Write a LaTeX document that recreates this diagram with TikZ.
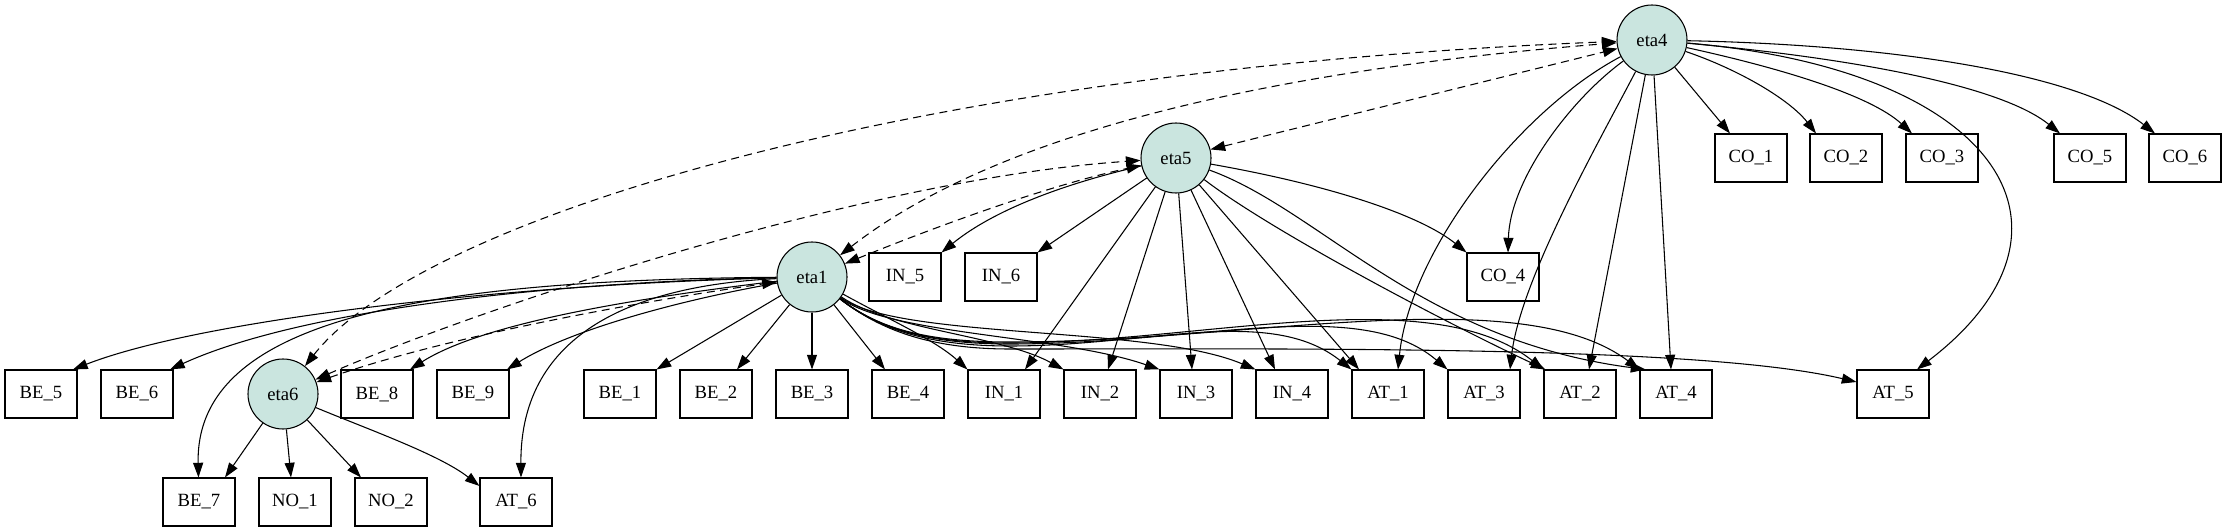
\documentclass[tikz,border=0pt]{standalone}
\usepackage{fontspec}
\setmainfont{Liberation Serif}
\usetikzlibrary{arrows.meta,calc}
\definecolor{latentfill}{HTML}{CAE5DF}
\tikzset{
  latent/.style={circle, draw, fill=latentfill, minimum size=52.5pt, inner sep=0pt, font=\fontsize{14}{16}\selectfont},
  obs/.style={rectangle, draw, minimum width=54pt, minimum height=36pt, inner sep=0pt, font=\fontsize{14}{16}\selectfont},
  load/.style={-{Triangle[length=11pt,width=7.5pt]}},
  cov/.style={{Triangle[length=11pt,width=7.5pt]}-{Triangle[length=11pt,width=7.5pt]}, dash pattern=on 6pt off 4pt},
}

\begin{document}
\begin{tikzpicture}[x=0.75pt, y=-0.75pt, line width=0.8pt]
            \useasboundingbox (0,0) rectangle (2227,531);
            % latent variables
            \node[latent] (eta4) at (1652,40) {eta4};
            \node[latent] (eta5) at (1176,158) {eta5};
            \node[latent] (eta1) at (812,277) {eta1};
            \node[latent] (eta6) at (283,394) {eta6};
            % first row of indicators
            \node[obs] (be5) at (41,394) {BE\_5};
            \node[obs] (be6) at ($(be5)+(96,0)$) {BE\_6};
            \node[obs] (be8) at (377,394) {BE\_8};
            \node[obs] (be9) at ($(be8)+(96,0)$) {BE\_9};
            \node[obs] (be1) at (620,394) {BE\_1};
            \node[obs] (be2) at ($(be1)+(96,0)$) {BE\_2};
            \node[obs] (be3) at ($(be2)+(96,0)$) {BE\_3};
            \node[obs] (be4) at ($(be3)+(96,0)$) {BE\_4};
            \node[obs] (in1) at ($(be4)+(96,0)$) {IN\_1};
            \node[obs] (in2) at ($(in1)+(96,0)$) {IN\_2};
            \node[obs] (in3) at ($(in2)+(96,0)$) {IN\_3};
            \node[obs] (in4) at ($(in3)+(96,0)$) {IN\_4};
            \node[obs] (at1) at ($(in4)+(96,0)$) {AT\_1};
            \node[obs] (at3) at ($(at1)+(96,0)$) {AT\_3};
            \node[obs] (at2) at ($(at3)+(96,0)$) {AT\_2};
            \node[obs] (at4) at ($(at2)+(96,0)$) {AT\_4};
            \node[obs] (at5) at (1893,394) {AT\_5};
            % second row
            \node[obs] (be7) at (199,502) {BE\_7};
            \node[obs] (no1) at ($(be7)+(96,0)$) {NO\_1};
            \node[obs] (no2) at ($(no1)+(96,0)$) {NO\_2};
            \node[obs] (at6) at (516,502) {AT\_6};
            % upper rows
            \node[obs] (in5) at (905,277) {IN\_5};
            \node[obs] (in6) at ($(in5)+(96,0)$) {IN\_6};
            \node[obs] (co4) at (1503,277) {CO\_4};
            \node[obs] (co1) at (1751,158) {CO\_1};
            \node[obs] (co2) at ($(co1)+(95,0)$) {CO\_2};
            \node[obs] (co3) at ($(co2)+(96,0)$) {CO\_3};
            \node[obs] (co5) at (2090,158) {CO\_5};
            \node[obs] (co6) at ($(co5)+(95,0)$) {CO\_6};
            % eta4
            \draw[load] (eta4) -- ($(co1.north)+(-21,0)$);
            \draw[load] (eta4) .. controls (1740,70) and (1790,100) .. ($(co2.north)+(-30,0)$);
            \draw[load] (eta4) .. controls (1780,68) and (1870,95) .. ($(co3.north)+(-30,0)$);
            \draw[load] (eta4) .. controls (1850,58) and (2000,85) .. ($(co5.north)+(-30,0)$);
            \draw[load] (eta4) .. controls (1900,45) and (2080,75) .. ($(co6.north)+(-30,0)$);
            \draw[load] (eta4) .. controls (2000,70) and (2100,230) .. ($(at5.north)+(24,0)$);
            \draw[load] (eta4) .. controls (1570,100) and (1510,180) .. ($(co4.north)+(5,0)$);
            \draw[load] (eta4) .. controls (1520,110) and (1410,250) .. ($(at1.north)+(10,0)$);
            \draw[load] (eta4) .. controls (1600,140) and (1520,280) .. ($(at3.north)+(26,0)$);
            \draw[load] (eta4) -- ($(at2.north)+(9,0)$);
            \draw[load] (eta4) -- ($(at4.north)+(-5,0)$);
            % eta5
            \draw[load] (eta5) .. controls (1080,180) and (1000,205) .. (in5.north east);
            \draw[load] (eta5) -- (in6.north east);
            \draw[load] (eta5) -- ($(in1.north)+(21,0)$);
            \draw[load] (eta5) -- ($(in2.north)+(8,0)$);
            \draw[load] (eta5) -- ($(in3.north)+(-4,0)$);
            \draw[load] (eta5) -- ($(in4.north)+(-17,0)$);
            \draw[load] (eta5) -- ($(at1.north)+(-29,0)$);
            \draw[load] (eta5) .. controls (1270,230) and (1440,320) .. ($(at2.north west)+(2,0)$);
            \draw[load] (eta5) .. controls (1320,210) and (1420,340) .. ($(at4.north west)+(6,0)$);
            \draw[load] (eta5) .. controls (1330,185) and (1420,215) .. (co4.north west);
            % eta1
            \draw[load] (eta1) -- (be1.north east);
            \draw[load] (eta1) -- ($(be2.north)+(21,0)$);
            \draw[load] (eta1) -- (be3);
            \draw[load] (eta1) -- ($(be4.north)+(-23,0)$);
            \draw[load] (eta1) .. controls (500,285) and (200,320) .. ($(be5.north)+(32,0)$);
            \draw[load] (eta1) .. controls (550,282) and (300,310) .. ($(be6.north)+(33,0)$);
            \draw[load] (eta1) .. controls (420,280) and (195,320) .. (be7);
            \draw[load] (eta1) .. controls (620,300) and (480,325) .. ($(be8.north)+(33,0)$);
            \draw[load] (eta1) .. controls (680,300) and (570,330) .. ($(be9.north)+(34,0)$);
            \draw[load] (eta1) .. controls (640,285) and (520,330) .. ($(at6.north)+(5,0)$);
            \draw[load] (eta1) .. controls (890,320) and (935,340) .. (in1.north west);
            \draw[load] (eta1) .. controls (890,330) and (1000,335) .. (in2.north west);
            \draw[load] (eta1) .. controls (890,335) and (1060,335) .. (in3.north west);
            \draw[load] (eta1) .. controls (900,340) and (1150,325) .. (in4.north west);
            \draw[load] (eta1) .. controls (880,330) and (930,346) .. (1010,346) .. controls (1150,346) and (1270,305) .. (at1.north west);
            \draw[load] (eta1) .. controls (880,330) and (930,344) .. (1010,344) .. controls (1200,344) and (1360,295) .. (at3.north west);
            \draw[load] (eta1) .. controls (880,330) and (930,343) .. (1010,343) .. controls (1200,343) and (1430,280) .. (at2.north west);
            \draw[load] (eta1) .. controls (880,330) and (930,342) .. (1010,342) .. controls (1250,342) and (1520,280) .. (at4.north west);
            \draw[load] (eta1) .. controls (880,330) and (930,349) .. (1010,349) .. controls (1300,349) and (1700,345) .. ($(at5.west)+(0,-12)$);
            % eta6
            \draw[load] (eta6) -- ($(be7.north)+(26,0)$);
            \draw[load] (eta6) -- ($(no1.north)+(-4,0)$);
            \draw[load] (eta6) -- ($(no2.north)+(-30,0)$);
            \draw[load] (eta6) .. controls (370,430) and (440,455) .. ($(at6.west)+(0,-16)$);
            % covariances
            \draw[cov] (eta6) .. controls (420,220) and (900,70) .. (eta4);
            \draw[cov] (eta6) .. controls (450,320) and (850,180) .. (eta5);
            \draw[cov] (eta6) .. controls (450,335) and (650,300) .. (eta1);
            \draw[cov] (eta1) .. controls (950,170) and (1150,80) .. (eta4);
            \draw[cov] (eta1) .. controls (940,225) and (1050,185) .. (eta5);
            \draw[cov] (eta5) -- (eta4);
\end{tikzpicture}
\end{document}
